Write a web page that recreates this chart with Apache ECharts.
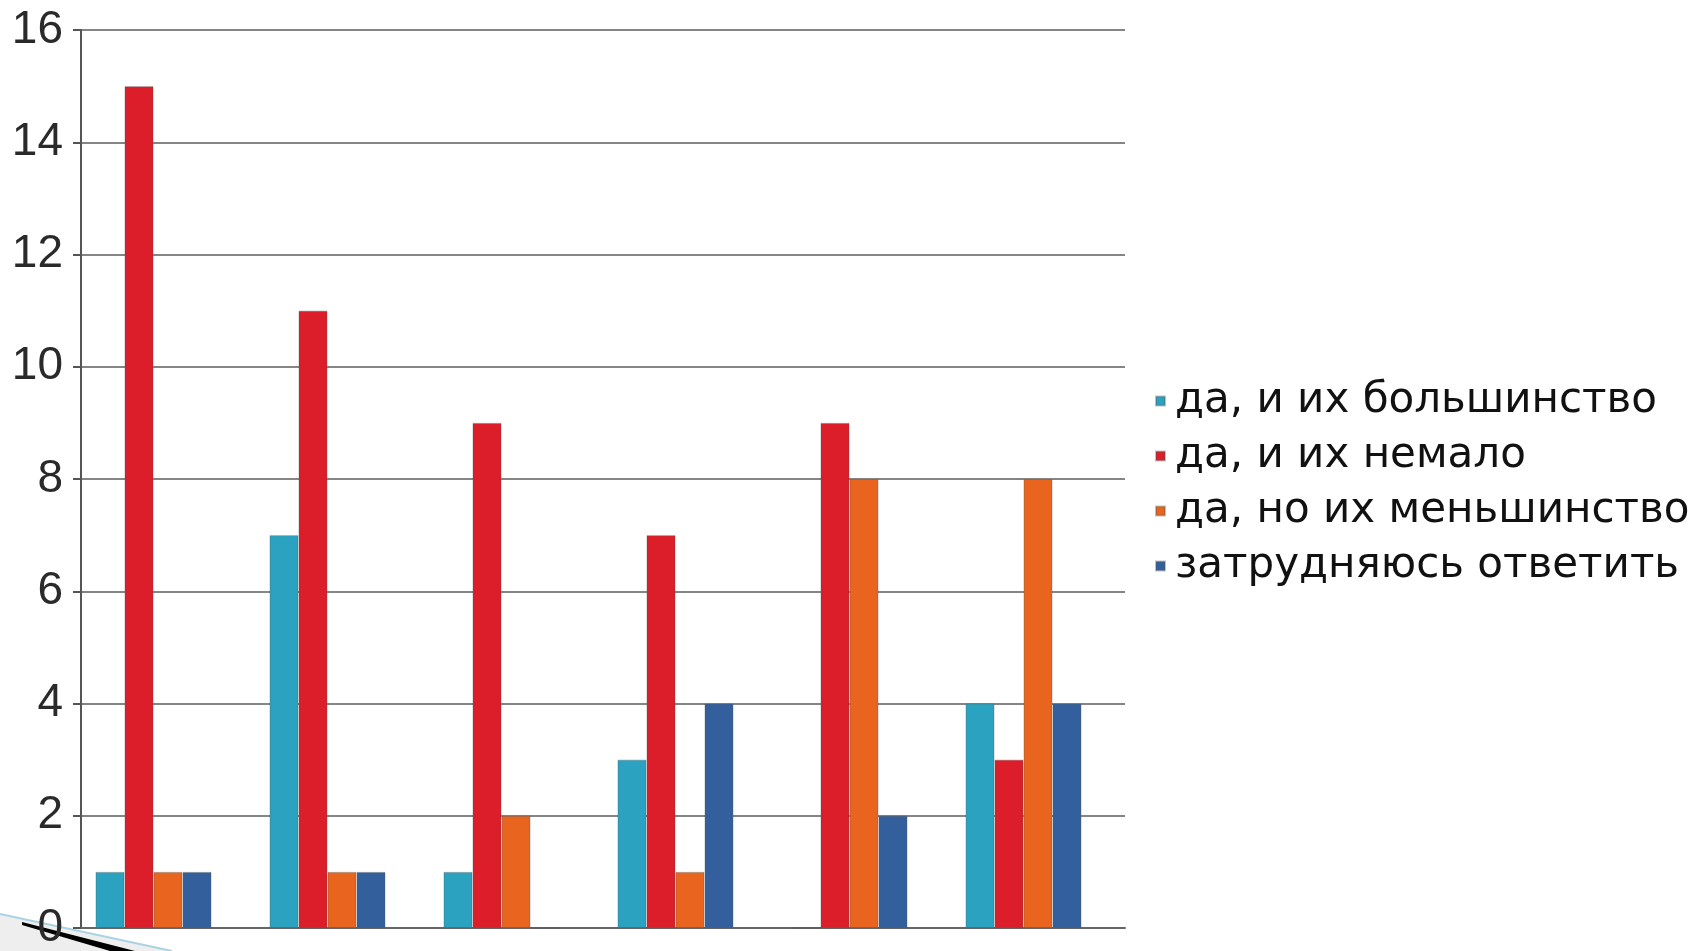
<!DOCTYPE html>
<html>
<head>
<meta charset="utf-8">
<script src="https://cdn.jsdelivr.net/npm/echarts@6/dist/echarts.min.js"></script>
<style>
  html, body { margin: 0; padding: 0; background: #fff; }
  #chart { width: 1694px; height: 951px; }
</style>
</head>
<body>
<div id="chart"></div>
<script>
// six unlabeled question groups
var categories = ['1', '2', '3', '4', '5', '6']
var seriesNames = ['да, и их большинство', 'да, и их немало', 'да, но их меньшинство', 'затрудняюсь ответить']
var majority = [1, 7, 1, 3, 0, 4]
var many = [15, 11, 9, 7, 9, 3]
var minority = [1, 1, 2, 1, 8, 8]
var unsure = [1, 1, 0, 4, 2, 4]
var yTicks = [0, 2, 4, 6, 8, 10, 12, 14, 16]

var colors = ['#2aa2c0', '#dc1e2a', '#e9651f', '#33609d']
var font = '"Liberation Sans", Arial, sans-serif'

var chart = echarts.init(document.getElementById('chart'))

var values = [majority, many, minority, unsure]
var series = seriesNames.map(function (name, i) {
    return {
        name: name,
        type: 'bar',
        data: values[i],
        barWidth: 29,
        barGap: '0%',
        itemStyle: {color: colors[i], borderColor: 'rgba(80,80,80,0.35)', borderWidth: 1},
        animation: false
    }
})
// empty slot so each group sits left of the category centre, as in the original
series.push({
    name: 'spacer',
    type: 'bar',
    data: categories.map(function () { return '-' }),
    barWidth: 29,
    barGap: '0%',
    animation: false
})

var option = {
    animation: false,
    textStyle: {fontFamily: font},
    grid: {left: 81, right: 569, top: 30, bottom: 21},
    legend: {
        data: seriesNames,
        orient: 'vertical',
        left: 1150,
        top: 375,
        itemWidth: 9,
        itemHeight: 9,
        itemGap: 13,
        icon: 'rect',
        textStyle: {fontSize: 42, color: '#111', fontFamily: '"DejaVu Sans", sans-serif', padding: [0, 0, 0, 5]}
    },
    xAxis: {
        type: 'category',
        data: categories,
        axisLine: {lineStyle: {color: '#666', width: 2}},
        axisTick: {show: false},
        axisLabel: {show: false}
    },
    yAxis: {
        type: 'value',
        min: yTicks[0],
        max: yTicks[yTicks.length - 1],
        interval: 2,
        axisLine: {show: true, lineStyle: {color: '#555', width: 2}},
        axisTick: {show: true, length: 8, lineStyle: {color: '#555', width: 2}},
        axisLabel: {fontSize: 46, color: '#2a2a2a', margin: 18, fontFamily: font},
        splitLine: {lineStyle: {color: '#858585', width: 2}}
    },
    series: series,
    graphic: [
        {
            type: 'polygon',
            shape: {points: [[0, 914], [0, 951], [172, 951]]},
            style: {fill: 'rgba(205,205,205,0.35)'}
        },
        {
            type: 'line',
            shape: {x1: 0, y1: 914, x2: 172, y2: 951},
            style: {stroke: '#a9d3e3', lineWidth: 2}
        },
        {
            type: 'polygon',
            shape: {points: [[22, 922], [135, 951], [110, 951], [22, 925]]},
            style: {fill: '#000'}
        }
    ]
}

chart.setOption(option)
</script>
</body>
</html>
